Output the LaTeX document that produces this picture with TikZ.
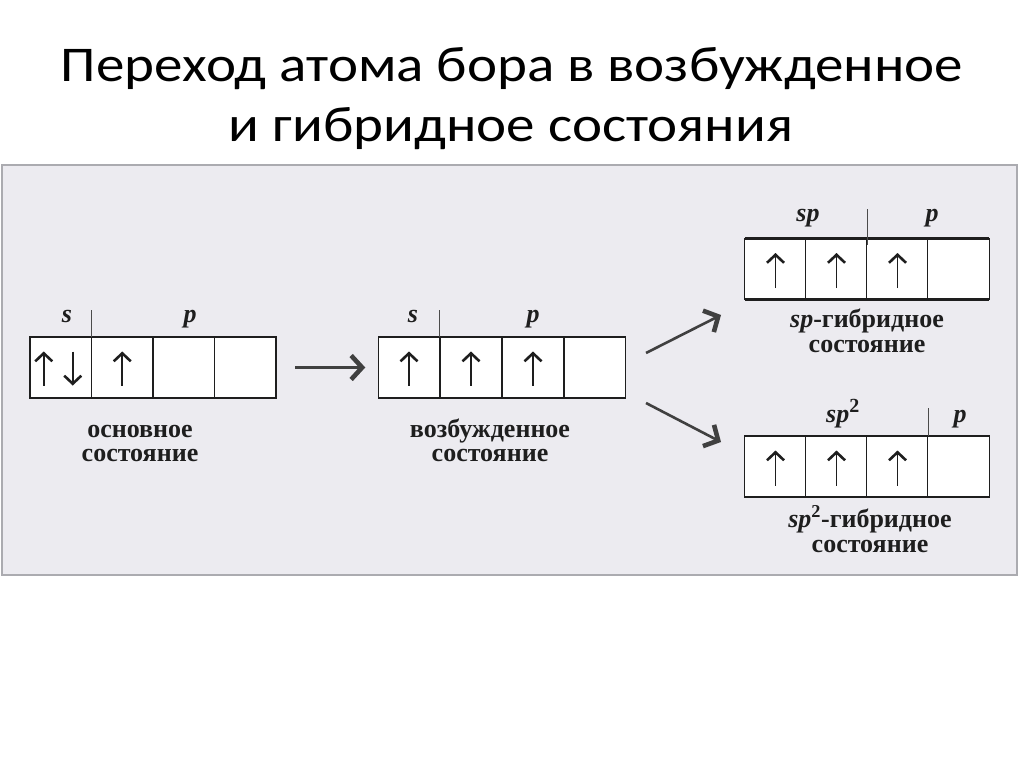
\documentclass[tikz,border=0pt]{standalone}
\usepackage{fontspec}
\setmainfont{Liberation Serif}
\newfontfamily\titlefont{Carlito}
\usetikzlibrary{arrows.meta,calc}
\definecolor{panelbg}{HTML}{ECEBF0}
\definecolor{panelline}{HTML}{ABABB0}
\definecolor{ink}{HTML}{1E1E1E}
\begin{document}
\begin{tikzpicture}[x=1pt,y=-1pt,
  cell/.style={draw=ink, line width=1.3pt, fill=white, minimum width=61.5pt, minimum height=61pt, inner sep=0pt, outer sep=0pt},
  el/.style={draw=ink, line width=1.6pt, -{Straight Barb[length=8pt,width=17pt,line width=2.6pt]}},
  trans/.style={draw=ink!85, line width=2.6pt, -{Straight Barb[length=11pt,width=24pt,line width=4.6pt]}},
  sep/.style={draw=ink!80, line width=1.1pt},
  orb/.style={font=\fontsize{26}{26}\selectfont\bfseries\itshape, text=ink, inner sep=0pt, anchor=base},
  lbl/.style={font=\fontsize{26}{26}\selectfont\bfseries, text=ink, inner sep=0pt, anchor=base},
  title/.style={font=\titlefont\fontsize{50}{50}\selectfont, text=black, inner sep=0pt, anchor=base}
]
\useasboundingbox (0,0) rectangle (1024,767);
\fill[white] (0,0) rectangle (1024,767);
% title
\node[title] (t1) at (512,82) {\scalebox{1.14}[1]{Переход атома бора в возбужденное}};
\node[title] (t2) at (511,142) {\scalebox{1.14}[1]{и гибридное состояния}};
% panel
\draw[fill=panelbg, draw=panelline, line width=2pt] (2,165) rectangle (1017,575);

% ground state
\node[cell] (g1) at (60.75,367.5) {};
\node[cell] (g2) at (122.25,367.5) {};
\node[cell] (g3) at (183.75,367.5) {};
\node[cell] (g4) at (245.25,367.5) {};
\draw[ink, line width=2.2pt] (g1.north west) -- (g4.north east) (g1.south west) -- (g4.south east);
\draw[sep] (g1.north east) -- ++(0,-27) coordinate (gs);
\node[orb] (gsl) at (67,322) {s};
\node[orb] (gpl) at (190,322) {p};
\draw[el] ($(g1.center)+(-17,18)$) -- ($(g1.center)+(-17,-16)$);
\draw[el] ($(g1.center)+(12,-16)$) -- ($(g1.center)+(12,18)$);
\draw[el] ($(g2.center)+(0,18)$) -- ($(g2.center)+(0,-16)$);
\node[lbl] (gl1) at (140,437) {основное};
\node[lbl] (gl2) at (140,461) {состояние};

% excited state
\node[cell] (e1) at (409,367.5) {};
\node[cell] (e2) at (471,367.5) {};
\node[cell] (e3) at (533,367.5) {};
\node[cell] (e4) at (595,367.5) {};
\draw[ink, line width=2.2pt] (e1.north west) -- (e4.north east) (e1.south west) -- (e4.south east);
\draw[sep] (e1.north east) -- ++(0,-27) coordinate (es);
\node[orb] (esl) at (413,322) {s};
\node[orb] (epl) at (533,322) {p};
\draw[el] ($(e1.center)+(0,18)$) -- ($(e1.center)+(0,-16)$);
\draw[el] ($(e2.center)+(0,18)$) -- ($(e2.center)+(0,-16)$);
\draw[el] ($(e3.center)+(0,18)$) -- ($(e3.center)+(0,-16)$);
\node[lbl] (el1) at (490,437) {возбужденное};
\node[lbl] (el2) at (490,461) {состояние};

% sp state
\node[cell] (a1) at (775.5,269) {};
\node[cell] (a2) at (836.5,269) {};
\node[cell] (a3) at (897.5,269) {};
\node[cell] (a4) at (958.5,269) {};
\draw[ink, line width=2.2pt] (a1.north west) -- (a4.north east) (a1.south west) -- (a4.south east);
\draw[sep] ($(a2.north east)+(0,6)$) -- ++(0,-35) coordinate (as);
\node[orb] (asl) at (808,222) {sp};
\node[orb] (apl) at (932,222) {p};
\draw[el] ($(a1.center)+(0,19)$) -- ($(a1.center)+(0,-16)$);
\draw[el] ($(a2.center)+(0,19)$) -- ($(a2.center)+(0,-16)$);
\draw[el] ($(a3.center)+(0,19)$) -- ($(a3.center)+(0,-16)$);
\node[lbl] (al1) at (867,327) {\textit{sp}-гибридное};
\node[lbl] (al2) at (867,352) {состояние};

% sp2 state
\node[cell] (b1) at (775.5,466.5) {};
\node[cell] (b2) at (836.5,466.5) {};
\node[cell] (b3) at (897.5,466.5) {};
\node[cell] (b4) at (958.5,466.5) {};
\draw[ink, line width=2.2pt] (b1.north west) -- (b4.north east) (b1.south west) -- (b4.south east);
\draw[sep] (b3.north east) -- ++(0,-28) coordinate (bs);
\node[orb] (bsl) at (843,422) {sp\textsuperscript{\upshape\fontsize{20}{20}\selectfont 2}};
\node[orb] (bpl) at (960,422) {p};
\draw[el] ($(b1.center)+(0,19)$) -- ($(b1.center)+(0,-16)$);
\draw[el] ($(b2.center)+(0,19)$) -- ($(b2.center)+(0,-16)$);
\draw[el] ($(b3.center)+(0,19)$) -- ($(b3.center)+(0,-16)$);
\node[lbl] (bl1) at (870,527) {\textit{sp}\textsuperscript{2}-гибридное};
\node[lbl] (bl2) at (870,552) {состояние};

% transitions
\draw[trans, shorten <=19pt, shorten >=13pt] (g4.east) -- (e1.west);
\coordinate (u0) at (646,353);
\coordinate (u1) at (721,315);
\coordinate (d0) at (646,403);
\coordinate (d1) at (721,442);
\draw[trans] (u0) -- (u1);
\draw[trans] (d0) -- (d1);
\end{tikzpicture}
\end{document}
